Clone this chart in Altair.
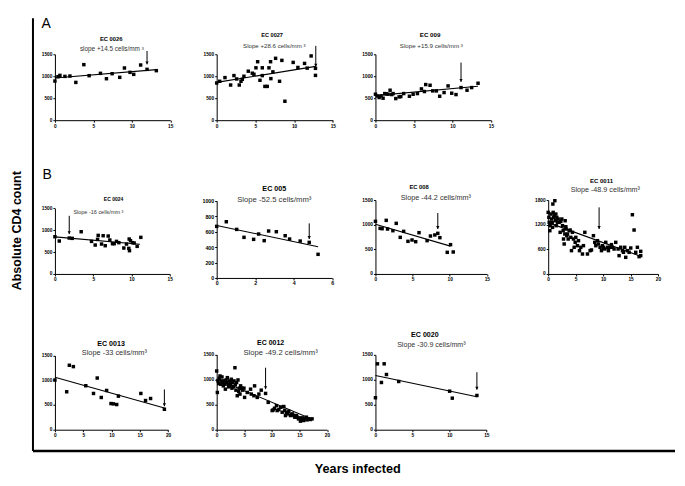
import altair as alt
import pandas as pd

# ---------------- data ----------------
ec0026_x = [0, 0.39, 0.65, 1.30, 1.95, 2.72, 3.76, 4.45, 5.92, 6.70, 7.44, 8.43, 9.04, 9.77, 10.25, 11.15, 11.98, 13.19]
ec0026_y = [891, 990, 1020, 997, 1005, 860, 1264, 1013, 1066, 944, 1058, 975, 1188, 1089, 1043, 1256, 1157, 1127]
ec0026_fit_x = [0, 13.2]
ec0026_fit_y = [960, 1150]

ec0027_x = [0, 0.39, 1.07, 1.80, 2.23, 2.58, 2.92, 3.14, 3.31, 3.52, 4.08, 4.60, 4.81, 5.07, 5.29, 5.59, 5.89, 5.89,
            6.23, 6.53, 6.75, 6.96, 7.00, 7.26, 7.61, 8.12, 8.42, 8.81, 9.88, 10.49, 11.35, 11.69, 12.20, 12.76, 12.76]
ec0027_y = [846, 885, 969, 800, 1015, 938, 800, 885, 931, 1000, 1115, 1069, 1046, 1192, 1331, 908, 1015, 1192,
            769, 769, 1192, 1331, 946, 1100, 1408, 885, 1361, 431, 1315, 1200, 1292, 1185, 1462, 1180, 1020]
ec0027_fit_x = [0, 12.8]
ec0027_fit_y = [860, 1225]

ec009_x = [0, 0.22, 0.48, 0.73, 0.99, 1.21, 1.43, 1.64, 1.90, 2.12, 2.29, 2.64, 3.07, 3.29, 3.67, 4.41, 4.89,
           5.45, 5.97, 6.36, 6.53, 7.09, 7.44, 7.91, 8.34, 8.91, 9.43, 9.90, 10.46, 11.11, 11.89, 12.49, 13.32]
ec009_y = [591, 553, 515, 553, 500, 606, 598, 591, 682, 583, 606, 492, 530, 538, 606, 545, 591,
           606, 712, 652, 811, 795, 667, 667, 545, 629, 780, 614, 583, 742, 682, 742, 841]
ec009_fit_x = [0, 13.3]
ec009_fit_y = [560, 772]

ec0024_x = [0, 0.57, 1.87, 2.26, 3.43, 4.78, 5.26, 5.57, 5.65, 6.09, 6.30, 6.57, 6.96, 7.17, 7.52, 7.74, 8.04,
            8.35, 9.00, 9.35, 9.65, 9.70, 9.74, 9.87, 10.13, 10.35, 10.74, 11.22]
ec0024_y = [853, 754, 822, 815, 967, 746, 662, 792, 883, 685, 876, 647, 868, 777, 693, 693, 746,
            716, 594, 685, 586, 800, 533, 761, 716, 708, 632, 838]
ec0024_fit_x = [0, 11.1]
ec0024_fit_y = [850, 680]

ec005_x = [0, 0.50, 1.04, 1.42, 1.92, 2.18, 2.47, 2.70, 3.10, 3.56, 3.79, 4.34, 4.81, 5.27]
ec005_y = [668, 728, 629, 526, 500, 569, 483, 608, 599, 547, 504, 478, 461, 306]
ec005_fit_x = [0, 5.27]
ec005_fit_y = [680, 405]

ec008_x = [0, 0.63, 0.90, 1.45, 1.63, 2.35, 2.80, 3.34, 3.80, 4.38, 4.93, 5.42, 5.87, 6.96, 7.41, 8.00, 8.40,
           8.68, 9.67, 10.12, 10.48]
ec008_y = [1068, 926, 919, 1088, 912, 878, 1027, 743, 865, 662, 689, 655, 838, 676, 770, 791, 824,
           737, 439, 595, 446]
ec008_fit_x = [0, 10.1]
ec008_fit_y = [1010, 565]

ec0011_x = [0, 0.12, 0.18, 0.30, 0.36, 0.48, 0.61, 0.73, 0.79, 0.85, 0.91, 0.97, 1.09, 1.21, 1.33, 1.39, 1.45,
            1.58, 1.70, 1.82, 2.00, 2.18, 2.30, 2.48, 2.61, 2.73, 2.79, 2.91, 3.03, 3.09, 3.21, 3.27, 3.39,
            3.52, 3.64, 3.82, 4.00, 4.12, 4.24, 4.42, 4.61, 4.73, 4.91, 5.03, 5.33, 5.52, 5.70, 5.94, 6.24,
            6.42, 6.67, 7.15, 7.64, 7.88, 8.24, 8.48, 8.67, 8.97, 9.15, 9.45, 9.70, 9.88, 10.06, 10.30,
            10.48, 10.79, 10.97, 11.21, 11.52, 11.70, 12.00, 12.30, 12.73, 12.91, 13.21, 13.52, 13.70,
            13.94, 14.12, 14.42, 14.73, 15.03, 15.33, 15.64, 15.94, 16.24, 16.55, 16.85, 16.85]
ec0011_y = [1500, 1378, 1257, 1054, 1176, 1459, 1338, 1257, 1135, 1703, 1500, 1378, 1419, 1784, 1297, 1459, 1176,
            1378, 1257, 1338, 1257, 1014, 1281, 1338, 1176, 1054, 851, 730, 973, 1297, 1151, 1095, 932,
            973, 851, 1054, 1070, 892, 568, 1014, 851, 649, 770, 892, 689, 811, 568, 649, 486,
            689, 1014, 486, 568, 584, 932, 770, 689, 811, 730, 649, 568, 689, 649, 608,
            770, 649, 568, 649, 714, 649, 608, 770, 608, 446, 649, 568, 527,
            649, 405, 568, 527, 632, 1443, 1070, 527, 649, 422, 551, 446]
ec0011_fit_x = [0, 16.85]
ec0011_fit_y = [1250, 430]

ec0013_x = [0, 2.08, 2.55, 3.26, 5.46, 6.82, 7.48, 8.19, 9.14, 9.91, 10.33, 10.92, 11.22, 15.19, 16.02, 16.91, 19.35]
ec0013_y = [1004, 767, 1303, 1276, 889, 733, 1045, 652, 794, 529, 523, 509, 679, 733, 590, 631, 414]
ec0013_fit_x = [0, 19.35]
ec0013_fit_y = [1060, 440]

ec0012_x = [0, 0.12, 0.24, 0.36, 0.48, 0.60, 0.72, 0.84, 0.96, 1.08, 1.20, 1.33, 1.45, 1.57, 1.69, 1.81, 1.93,
            2.05, 2.17, 2.29, 2.41, 2.53, 2.65, 2.77, 2.89, 3.01, 3.13, 3.31, 3.37, 3.49, 3.61, 3.73, 3.86,
            3.98, 4.10, 4.22, 4.34, 4.58, 4.70, 4.94, 5.06, 5.54, 6.14, 6.27, 6.75, 6.87, 7.35, 7.65, 8.07,
            8.86, 9.34, 10.06, 10.24, 10.48, 10.84, 10.96, 11.27, 11.57, 11.87, 12.05, 12.17, 12.35, 12.47,
            12.65, 12.89, 13.07, 13.37, 13.55, 13.73, 13.98, 14.16, 14.46, 14.58, 14.82, 15.06, 15.18, 15.36,
            15.60, 15.78, 16.08, 16.27, 16.39, 16.69, 16.99, 17.29]
ec0012_y = [1171, 743, 974, 921, 1026, 1072, 908, 974, 1053, 941, 875, 974, 908, 809, 993, 941, 1039,
            908, 855, 974, 875, 921, 1007, 829, 941, 855, 974, 1237, 895, 789, 941, 678, 993,
            763, 829, 711, 875, 829, 789, 829, 645, 743, 809, 711, 678, 875, 645, 711, 789,
            724, 546, 382, 395, 428, 480, 382, 401, 447, 349, 461, 461, 382, 283,
            342, 316, 368, 283, 303, 316, 283, 250, 283, 250, 217, 237, 171, 197,
            237, 184, 217, 250, 197, 217, 204, 217]
ec0012_fit_x = [0, 17.3]
ec0012_fit_y = [1010, 210]

ec0020_x = [0, 0.27, 0.81, 1.18, 1.49, 3.15, 10.04, 10.40, 13.73]
ec0020_y = [640, 1320, 946, 1320, 1106, 966, 772, 632, 686]
ec0020_fit_x = [0, 13.73]
ec0020_fit_y = [1085, 660]

# arrows: x, top, tip
arrows = {
    "EC 0026": (11.98, 1576, 1271),
    "EC 0027": (12.8, 1692, 1215),
    "EC 009": (11.11, 1311, 871),
    "EC 0024": (1.87, 1332, 913),
    "EC 005": (4.81, 707, 504),
    "EC 008": (8.4, 1237, 912),
    "EC 0011": (9.27, 1622, 1095),
    "EC 0013": (19.35, 814, 475),
    "EC 0012": (8.86, 1237, 809),
    "EC 0020": (13.73, 1152, 800),
}

# ---------------- layout (page pixel coordinates) ----------------
FONT = "Liberation Sans"
ROW_TOPS = [53.3, 119.3, 277.3]
COL_LEFTS = [55, 216.3, 375, 547.3]

panels = [
    # row A
    dict(row=0, col=0, name="EC 0026", sub="slope +14.5 cells/mm \u00b3", x=ec0026_x, y=ec0026_y, fx=ec0026_fit_x, fy=ec0026_fit_y,
         xmax=15, ymax=1500, xt=[0, 5, 10, 15], yt=[0, 500, 1000, 1500],
         width=115.5, top=53.3, bottom=119.3, t=(111.3, 38), s=(112, 47.8), tfs=5.8, sfs=6.4),
    dict(row=0, col=1, name="EC 0027", sub="Slope +28.6 cells/mm \u00b3", x=ec0027_x, y=ec0027_y, fx=ec0027_fit_x, fy=ec0027_fit_y,
         xmax=15, ymax=1500, xt=[0, 5, 10, 15], yt=[0, 500, 1000, 1500],
         width=116.3, top=53.3, bottom=119.3, t=(271.8, 33.7), s=(274, 45), tfs=5.6, sfs=6.15),
    dict(row=0, col=2, name="EC 009", sub="Slope +15.9 cells/mm \u00b3", x=ec009_x, y=ec009_y, fx=ec009_fit_x, fy=ec009_fit_y,
         xmax=15, ymax=1500, xt=[0, 5, 10, 15], yt=[0, 500, 1000, 1500],
         width=115.7, top=53.3, bottom=119.3, t=(429.7, 34), s=(431, 45.3), tfs=6.2, sfs=6.2),
    # row B1
    dict(row=1, col=0, name="EC 0024", sub="Slope -16 cells/mm \u00b3", x=ec0024_x, y=ec0024_y, fx=ec0024_fit_x, fy=ec0024_fit_y,
         xmax=15, ymax=1500, xt=[0, 5, 10, 15], yt=[0, 500, 1000, 1500],
         width=115, top=207.7, bottom=273.3, t=(113.7, 198), s=(98.5, 211.3), tfs=5.0, sfs=5.5),
    dict(row=1, col=1, name="EC 005", sub="Slope -52.5 cells/mm\u00b3", x=ec005_x, y=ec005_y, fx=ec005_fit_x, fy=ec005_fit_y,
         xmax=6, ymax=1000, xt=[0, 2, 4, 6], yt=[0, 200, 400, 600, 800, 1000],
         width=115.6, top=200, bottom=277.3, t=(274, 188.3), s=(274, 198.8), tfs=7.2, sfs=7.7),
    dict(row=1, col=2, name="EC 008", sub="Slope -44.2 cells/mm\u00b3", x=ec008_x, y=ec008_y, fx=ec008_fit_x, fy=ec008_fit_y,
         xmax=15, ymax=1500, xt=[0, 5, 10, 15], yt=[0, 500, 1000, 1500],
         width=111.5, top=199.3, bottom=273.3, t=(418.7, 186.2), s=(435.5, 197.5), tfs=5.8, sfs=7.3),
    dict(row=1, col=3, name="EC 0011", sub="Slope -48.9 cells/mm\u00b3", x=ec0011_x, y=ec0011_y, fx=ec0011_fit_x, fy=ec0011_fit_y,
         xmax=20, ymax=1800, xt=[0, 5, 10, 15, 20], yt=[0, 600, 1200, 1800],
         width=110, top=199.3, bottom=273.3, t=(600.7, 180), s=(604.5, 189.2), tfs=6.0, sfs=7.2),
    # row B2
    dict(row=2, col=0, name="EC 0013", sub="Slope -33 cells/mm\u00b3", x=ec0013_x, y=ec0013_y, fx=ec0013_fit_x, fy=ec0013_fit_y,
         xmax=20, ymax=1500, xt=[0, 5, 10, 15, 20], yt=[0, 500, 1000, 1500],
         width=113.3, top=355, bottom=429.3, t=(111.2, 343.5), s=(114.5, 352.8), tfs=7.1, sfs=7.4),
    dict(row=2, col=1, name="EC 0012", sub="Slope -49.2 cells/mm\u00b3", x=ec0012_x, y=ec0012_y, fx=ec0012_fit_x, fy=ec0012_fit_y,
         xmax=20, ymax=1500, xt=[0, 5, 10, 15, 20], yt=[0, 500, 1000, 1500],
         width=110.5, top=354, bottom=429.3, t=(270.3, 342.5), s=(280.3, 352.2), tfs=7.0, sfs=7.7),
    dict(row=2, col=2, name="EC 0020", sub="Slope -30.9 cells/mm\u00b3", x=ec0020_x, y=ec0020_y, fx=ec0020_fit_x, fy=ec0020_fit_y,
         xmax=15, ymax=1500, xt=[0, 5, 10, 15], yt=[0, 500, 1000, 1500],
         width=111, top=354.3, bottom=429.3, t=(424.5, 334.2), s=(431, 344.8), tfs=7.1, sfs=7.1),
]

one = pd.DataFrame({"a": [0]})


def axis(values, lfs):
    return alt.Axis(values=values, title=None, grid=False, domainColor="black", tickColor="black",
                    tickSize=2, tickWidth=1, domainWidth=1, labelFontSize=lfs, labelFontWeight="bold",
                    labelColor="black", labelFont=FONT, labelPadding=1, labelOverlap=False,
                    labelFlush=False, format="d")


def cell_width(col):
    if col + 1 < len(COL_LEFTS):
        return COL_LEFTS[col + 1] - COL_LEFTS[col]
    return 110


def build_panel(p, extra=None):
    row_top = ROW_TOPS[p["row"]]
    ox, oy = COL_LEFTS[p["col"]], row_top
    cell_h = p["bottom"] - row_top
    pw = p["width"]
    ph = p["bottom"] - p["top"]
    lfs = 5.3 if p["ymax"] == 1000 else 4.8
    xs = alt.Scale(domain=[0, p["xmax"]], range=[0, pw], nice=False, zero=True)
    ys = alt.Scale(domain=[0, p["ymax"]], range=[cell_h, cell_h - ph], nice=False, zero=True)
    xa = axis(p["xt"], lfs)
    ya = axis(p["yt"], lfs)
    pts = pd.DataFrame({"x": p["x"], "y": p["y"]})
    fit = pd.DataFrame({"x": p["fx"], "y": p["fy"]})
    ax, atop, atip = arrows[p["name"]]
    arr = pd.DataFrame({"x": [ax], "y": [atop], "y2": [atip]})

    points = alt.Chart(pts).mark_square(size=12, color="black", opacity=1).encode(
        x=alt.X("x:Q", scale=xs, axis=xa), y=alt.Y("y:Q", scale=ys, axis=ya))
    line = alt.Chart(fit).mark_line(color="black", strokeWidth=1.1).encode(
        x=alt.X("x:Q", scale=xs, axis=xa), y=alt.Y("y:Q", scale=ys, axis=ya))
    rule = alt.Chart(arr).mark_rule(color="black", strokeWidth=1).encode(
        x=alt.X("x:Q", scale=xs, axis=xa), y=alt.Y("y:Q", scale=ys, axis=ya), y2="y2:Q")
    head = alt.Chart(arr).mark_point(shape="triangle-down", filled=True, color="black", size=11,
                                     opacity=1, yOffset=-1.5).encode(
        x=alt.X("x:Q", scale=xs, axis=xa), y=alt.Y("y2:Q", scale=ys, axis=ya))
    title = alt.Chart(one).mark_text(font=FONT, fontWeight="bold", fontSize=p["tfs"], color="black",
                                     align="center", baseline="middle").encode(
        x=alt.value(p["t"][0] - ox), y=alt.value(p["t"][1] - oy), text=alt.value(p["name"]))
    sub = alt.Chart(one).mark_text(font=FONT, fontSize=p["sfs"], color="#333333",
                                   align="center", baseline="middle").encode(
        x=alt.value(p["s"][0] - ox), y=alt.value(p["s"][1] - oy), text=alt.value(p["sub"]))
    layers = [line, rule, head, points, title, sub]
    if extra:
        layers += extra(ox, oy)
    return alt.layer(*layers).properties(width=cell_width(p["col"]), height=cell_h)


def decorations(ox, oy):
    v = alt.Chart(one).mark_rule(color="black", strokeWidth=2).encode(
        x=alt.value(33 - ox), y=alt.value(17.3 - oy), y2=alt.value(450.5 - oy))
    h = alt.Chart(one).mark_rule(color="black", strokeWidth=2.5).encode(
        x=alt.value(33 - ox), x2=alt.value(676 - ox), y=alt.value(450.5 - oy))
    a = alt.Chart(one).mark_text(font=FONT, fontSize=14, color="black", align="left", baseline="alphabetic").encode(
        x=alt.value(41.5 - ox), y=alt.value(26.7 - oy), text=alt.value("A"))
    b = alt.Chart(one).mark_text(font=FONT, fontSize=14, color="black", align="left", baseline="alphabetic").encode(
        x=alt.value(42.5 - ox), y=alt.value(178.3 - oy), text=alt.value("B"))
    yt = alt.Chart(one).mark_text(font=FONT, fontSize=12.5, fontWeight="bold", color="black", angle=270,
                                  align="center", baseline="middle").encode(
        x=alt.value(16.7 - ox), y=alt.value(230 - oy), text=alt.value("Absolute CD4 count"))
    xt = alt.Chart(one).mark_text(font=FONT, fontSize=12.7, fontWeight="bold", color="black",
                                  align="center", baseline="alphabetic").encode(
        x=alt.value(358.3 - ox), y=alt.value(472.4 - oy), text=alt.value("Years infected"))
    return [v, h, a, b, yt, xt]


def blank(w, h):
    return alt.Chart(one).mark_point(opacity=0).encode(
        x=alt.value(0), y=alt.value(0)).properties(width=w, height=h)


grid = {}
for p in panels:
    extra = decorations if (p["row"] == 0 and p["col"] == 0) else None
    grid[(p["row"], p["col"])] = build_panel(p, extra)

cells = []
for r in range(3):
    for c in range(4):
        cells.append(grid.get((r, c), blank(1, 1)))

chart = alt.concat(*cells, columns=4, spacing=0, bounds="flush").properties(
    padding={"left": 2, "top": 8, "right": 0, "bottom": 0},
    background="white",
).configure_view(stroke=None)

chart.save("out.html", embed_options={"renderer": "svg", "actions": False})
